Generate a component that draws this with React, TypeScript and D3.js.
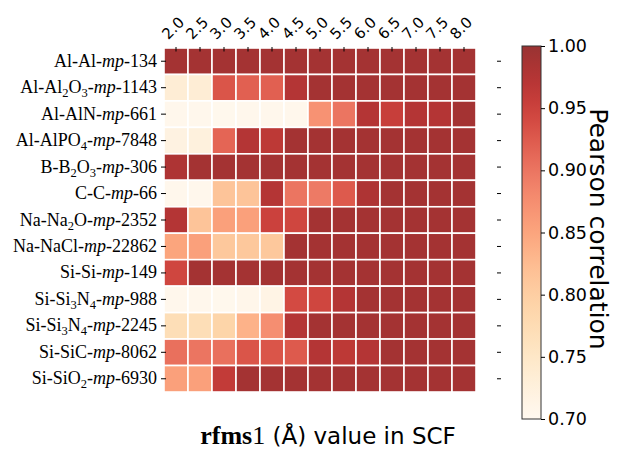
import React, { useRef, useEffect } from "react";
import * as d3 from "d3";

// rows: material pair + Materials Project id
const materials = [
  "Al-Al", "Al-Al2O3", "Al-AlN", "Al-AlPO4", "B-B2O3", "C-C", "Na-Na2O",
  "Na-NaCl", "Si-Si", "Si-Si3N4", "Si-Si3N4", "Si-SiC", "Si-SiO2",
];
const mpIds = ["134", "1143", "661", "7848", "306", "66", "2352", "22862", "149", "988", "2245", "8062", "6930"];

// columns: rfms1 values
const rfms = ["2.0", "2.5", "3.0", "3.5", "4.0", "4.5", "5.0", "5.5", "6.0", "6.5", "7.0", "7.5", "8.0"];

// Pearson correlation, one array per row
const alAl134 = [0.99, 0.99, 0.99, 0.99, 0.99, 0.99, 0.99, 0.99, 0.99, 0.99, 0.99, 0.99, 0.99];
const alAl2o3 = [0.735, 0.735, 0.93, 0.92, 0.92, 0.975, 0.99, 0.99, 0.99, 0.99, 0.99, 0.99, 0.99];
const alAlN = [0.705, 0.705, 0.703, 0.705, 0.705, 0.705, 0.87, 0.9, 0.975, 0.955, 0.975, 0.975, 0.99];
const alAlPO4 = [0.72, 0.725, 0.915, 0.975, 0.965, 0.99, 0.99, 0.99, 0.99, 0.99, 0.99, 0.99, 0.99];
const bB2O3 = [0.98, 0.99, 0.99, 0.99, 0.99, 0.99, 0.99, 0.99, 0.99, 0.99, 0.99, 0.99, 0.99];
const cC66 = [0.705, 0.705, 0.815, 0.815, 0.975, 0.9, 0.895, 0.925, 0.98, 0.99, 0.99, 0.99, 0.99];
const naNa2O = [0.975, 0.815, 0.855, 0.855, 0.95, 0.945, 0.99, 0.99, 0.99, 0.99, 0.99, 0.99, 0.99];
const naNaCl = [0.85, 0.855, 0.81, 0.81, 0.81, 0.99, 0.99, 0.99, 0.99, 0.99, 0.99, 0.99, 0.99];
const siSi149 = [0.945, 0.99, 0.99, 0.99, 0.99, 0.99, 0.99, 0.99, 0.99, 0.99, 0.99, 0.99, 0.99];
const siSi3N4a = [0.705, 0.705, 0.703, 0.707, 0.715, 0.94, 0.945, 0.975, 0.99, 0.99, 0.99, 0.99, 0.99];
const siSi3N4b = [0.77, 0.77, 0.79, 0.835, 0.875, 0.975, 0.99, 0.99, 0.99, 0.99, 0.99, 0.99, 0.99];
const siSiC = [0.905, 0.9, 0.905, 0.93, 0.93, 0.925, 0.975, 0.965, 0.975, 0.99, 0.99, 0.99, 0.99];
const siSiO2 = [0.855, 0.855, 0.96, 0.99, 0.99, 0.99, 0.99, 0.99, 0.99, 0.99, 0.99, 0.99, 0.99];

const values = [alAl134, alAl2o3, alAlN, alAlPO4, bB2O3, cC66, naNa2O, naNaCl, siSi149, siSi3N4a, siSi3N4b, siSiC, siSiO2];
const cbTicks = [0.7, 0.75, 0.8, 0.85, 0.9, 0.95, 1.0];

const sans = "DejaVu Sans, sans-serif";
const serif = "Liberation Serif, DejaVu Serif, serif";

const HeatMap = () => {
  const svgRef = useRef(null);

  useEffect(() => {
    const svg = d3.select(svgRef.current);
    svg.selectAll("*").remove();

    const rows = materials.map((m, i) => String(i));
    const x = d3.scaleBand().domain(rfms).range([164, 476]);
    const y = d3.scaleBand().domain(rows).range([48, 392]);
    const color = d3.scaleSequential(d3.interpolateOrRd).domain([0.7, 1.0]);

    // cells
    const cells = svg.append("g");
    values.forEach((row, i) => {
      row.forEach((v, j) => {
        cells
          .append("rect")
          .attr("x", x(rfms[j]))
          .attr("y", y(String(i)))
          .attr("width", x.bandwidth())
          .attr("height", y.bandwidth())
          .attr("fill", color(v))
          .attr("fill-opacity", 0.8)
          .attr("stroke", "#fff")
          .attr("stroke-width", 1.6);
      });
    });

    // top ticks + rotated labels
    const top = svg.append("g");
    rfms.forEach((r) => {
      const cx = x(r) + x.bandwidth() / 2;
      top.append("line").attr("x1", cx).attr("x2", cx).attr("y1", 47).attr("y2", 51.5)
        .attr("stroke", "#000").attr("stroke-width", 1);
      top.append("text")
        .attr("transform", `translate(${cx - 3},${28}) rotate(-45)`)
        .attr("text-anchor", "middle")
        .attr("dy", "0.35em")
        .style("font-family", sans)
        .style("font-size", "15px")
        .text(r);
    });

    // left labels with subscripts, ticks on both sides
    const left = svg.append("g");
    materials.forEach((m, i) => {
      const cy = y(String(i)) + y.bandwidth() / 2;
      left.append("line").attr("x1", 161).attr("x2", 166).attr("y1", cy).attr("y2", cy)
        .attr("stroke", "#000").attr("stroke-width", 1);
      left.append("line").attr("x1", 497).attr("x2", 501).attr("y1", cy).attr("y2", cy)
        .attr("stroke", "#000").attr("stroke-width", 1);
      const t = left.append("text")
        .attr("x", 157)
        .attr("y", cy + 5.5)
        .attr("text-anchor", "end")
        .style("font-family", serif)
        .style("font-size", "18px");
      const parts = m.match(/[A-Za-z-]+|\d+/g) || [];
      let shift = 0;
      parts.forEach((p) => {
        if (/^\d+$/.test(p)) {
          t.append("tspan").attr("dy", 4 - shift).style("font-size", "12.5px").text(p);
          shift = 4;
        } else {
          t.append("tspan").attr("dy", -shift).text(p);
          shift = 0;
        }
      });
      t.append("tspan").attr("dy", -shift).text("-");
      t.append("tspan").style("font-style", "italic").text("mp");
      t.append("tspan").text("-" + mpIds[i]);
    });

    // x label
    const xl = svg.append("text")
      .attr("x", 328)
      .attr("y", 444)
      .attr("text-anchor", "middle")
      .style("font-size", "23px");
    xl.append("tspan").style("font-family", serif).style("font-weight", "bold").style("font-size", "26px").text("rfms");
    xl.append("tspan").style("font-family", serif).style("font-size", "26px").text("1");
    xl.append("tspan").style("font-family", sans).text(" (Å) value in SCF");

    // colorbar
    const cbX = 522, cbW = 19, cbTop = 46, cbBot = 419;
    const cyScale = d3.scaleLinear().domain([0.7, 1.0]).range([cbBot, cbTop]);
    const defs = svg.append("defs");
    const grad = defs.append("linearGradient").attr("id", "cbgrad")
      .attr("x1", 0).attr("y1", 1).attr("x2", 0).attr("y2", 0);
    d3.range(0, 1.0001, 0.05).forEach((s) => {
      grad.append("stop").attr("offset", s).attr("stop-color", color(0.7 + 0.3 * s));
    });
    svg.append("rect").attr("x", cbX).attr("y", cbTop).attr("width", cbW).attr("height", cbBot - cbTop)
      .attr("fill", "url(#cbgrad)").attr("fill-opacity", 0.8)
      .attr("stroke", "#333").attr("stroke-width", 1);
    const cbAxis = svg.append("g")
      .attr("transform", `translate(${cbX + cbW},0)`)
      .call(d3.axisRight(cyScale).tickValues(cbTicks).tickFormat(d3.format(".2f")).tickSize(4).tickPadding(3));
    cbAxis.select(".domain").remove();
    cbAxis.selectAll("text").style("font-family", sans).style("font-size", "17.5px").attr("fill", "#000");

    svg.append("text")
      .attr("transform", `translate(599,229) rotate(90)`)
      .attr("text-anchor", "middle")
      .attr("dy", "0.35em")
      .style("font-family", sans)
      .style("font-size", "25px")
      .text("Pearson correlation");
  }, []);

  return <svg ref={svgRef} width={621} height={451} style={{ position: "absolute", left: 0, top: 0, background: "#fff" }}></svg>;
};

export default function App() {
  return <HeatMap />;
}
